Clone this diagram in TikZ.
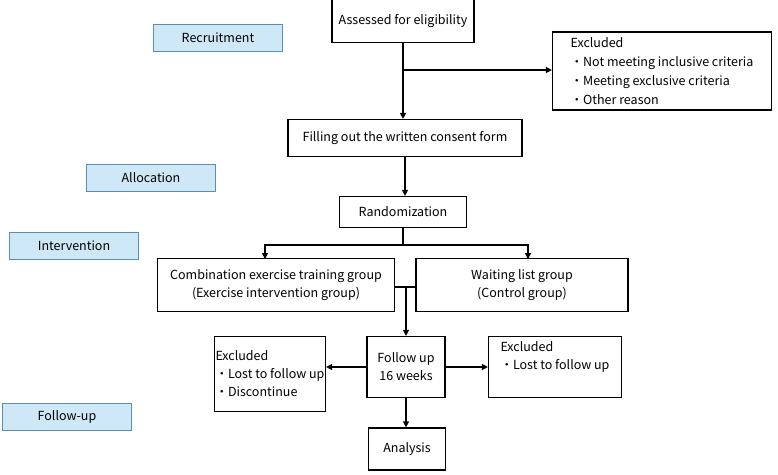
\documentclass[tikz,border=0pt]{standalone}
\usepackage{fontspec}
\setmainfont{Noto Sans CJK JP}
\usetikzlibrary{arrows.meta}
\definecolor{stagefill}{HTML}{CFE8F8}
\definecolor{stageline}{HTML}{5A8FB0}
\tikzset{
  box/.style={draw, line width=1.2pt, inner sep=2pt, font=\fontsize{12.5}{18}\selectfont, align=center},
  stage/.style={draw=stageline, fill=stagefill, minimum width=129pt, minimum height=27pt, font=\fontsize{12.5}{15}\selectfont},
  flow/.style={line width=1.2pt, -{Triangle[length=6pt,width=6pt]}},
  link/.style={line width=1.2pt}
}
\begin{document}
\begin{tikzpicture}[x=1pt,y=-1pt]
  \useasboundingbox (0,0) rectangle (778,474);
  % stages
  \node[stage] (recruit) at (218,38) {Recruitment};
  \node[stage] (alloc) at (151,178) {Allocation};
  \node[stage] (interv) at (74,246) {Intervention};
  \node[stage] (follow) at (67,417) {Follow-up};
  % boxes
  \node[box, minimum width=142pt, minimum height=43pt] (assess) at (403,21) {Assessed for eligibility};
  \node[box, minimum width=219pt, minimum height=78pt, align=left, font=\fontsize{12.5}{19}\selectfont] (exctop) at (662,71)
    {Excluded\hspace{110pt}\\ ・Not meeting inclusive criteria\\ ・Meeting exclusive criteria\\ ・Other reason};
  \node[box, minimum width=234pt, minimum height=37pt] (consent) at (405,138) {Filling out the written consent form};
  \node[box, minimum width=127pt, minimum height=31pt] (random) at (403,212) {Randomization};
  \node[box, minimum width=237pt, minimum height=53pt] (exer) at (276,285) {Combination exercise training group\\(Exercise intervention group)};
  \node[box, minimum width=212pt, minimum height=53pt] (wait) at (522,285) {Waiting list group\\(Control group)};
  \node[box, minimum width=78pt, minimum height=61pt] (fup) at (406,367) {Follow up\\16 weeks};
  \node[box, minimum width=105pt, minimum height=75pt, align=left, inner sep=1pt] (excleft) at (270,374) {Excluded\\ ・Lost to follow up\\ ・Discontinue};
  \node[box, minimum width=133pt, minimum height=61pt, align=left] (excright) at (555,367) {Excluded\hspace{40pt}\\ ・Lost to follow up\\ \strut};
  \node[box, minimum width=77pt, minimum height=42pt] (analysis) at (407,449) {Analysis};
  % junctions
  \coordinate (j1) at (403,70);
  \coordinate (j2) at (403,245);
  \coordinate (j3) at (406,287);
  % connectors
  \draw[flow] (assess) -- (assess |- consent.north);
  \draw[flow] (j1) -- (exctop.west |- j1);
  \draw[flow] (consent) -- (consent |- random.north);
  \draw[link] (random) -- (j2);
  \draw[flow] (j2) -| (265,259);
  \draw[flow] (j2) -| (528,259);
  \draw[link] (exer.east |- j3) -- (wait.west |- j3);
  \draw[flow] (j3) -- (fup.north);
  \draw[flow] (fup.west) -- (excleft.east |- fup.west);
  \draw[flow] (fup.east) -- (excright.west);
  \draw[flow] (fup.south) -- (fup.south |- analysis.north);
\end{tikzpicture}
\end{document}
